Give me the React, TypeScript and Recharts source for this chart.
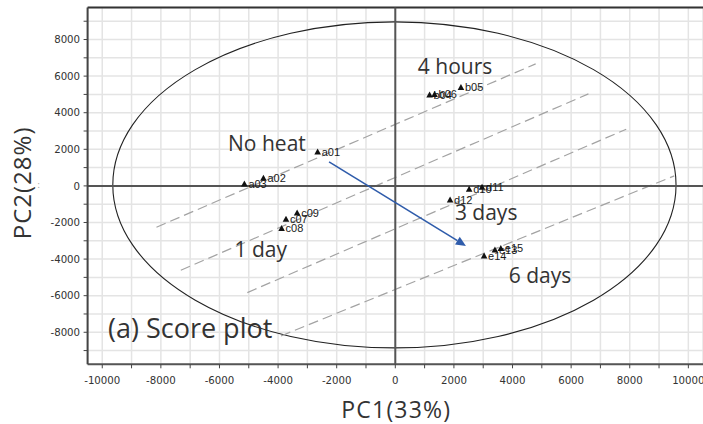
import React from 'react';
import {
  ScatterChart,
  Scatter,
  XAxis,
  YAxis,
  CartesianGrid,
  ReferenceLine,
  ReferenceArea,
  ReferenceDot,
  Label,
} from 'recharts';

// ---- sample scores ----
const sampleNames = ['a01', 'a02', 'a03', 'b04', 'b06', 'b05', 'c07', 'c08', 'c09', 'd12', 'd10', 'd11', 'e14', 'e13', 'e15'];
const pc1Scores = [-2650, -4500, -5150, 1170, 1340, 2240, -3730, -3880, -3350, 1870, 2520, 2960, 3030, 3400, 3600];
const pc2Scores = [1850, 420, 110, 4970, 5000, 5380, -1820, -2330, -1480, -770, -180, -80, -3830, -3500, -3420];

// ---- axis ticks ----
const xTicks = [-10000, -9000, -8000, -7000, -6000, -5000, -4000, -3000, -2000, -1000, 0, 1000, 2000, 3000, 4000, 5000, 6000, 7000, 8000, 9000, 10000];
const yTicks = [-9000, -8000, -7000, -6000, -5000, -4000, -3000, -2000, -1000, 0, 1000, 2000, 3000, 4000, 5000, 6000, 7000, 8000, 9000];
const xDomain = [-10500, 10500];
const yDomain = [-9750, 9750];

// ---- dashed guide lines (start / end in score units) ----
const guideStartX = [-8150, -7320, -5050, -3900];
const guideStartY = [-2260, -4610, -5830, -8200];
const guideEndX = [4790, 6590, 7880, 9520];
const guideEndY = [6670, 5030, 3100, 550];

// ---- arrow ----
const arrowStart = { x: -2260, y: 1310 };
const arrowEnd = { x: 2410, y: -3280 };

// ---- confidence ellipse bounding box ----
const ellipseX = [-9640, 9580];
const ellipseY = [-8855, 8965];

// ---- annotations ----
const noteTexts = ['4 hours', 'No heat', '1 day', '3 days', '6 days'];
const noteX = [2040, -4380, -4590, 3100, 4940];
const noteY = [6560, 2350, -3440, -1420, -4860];
const titleText = '(a) Score plot';
const titlePos = { x: -7000, y: -7760 };

const data = sampleNames.map((name, i) => ({ name, x: pc1Scores[i], y: pc2Scores[i] }));

const TriangleShape = (props: any) => {
  const { cx, cy, payload } = props;
  if (cx == null || cy == null) return null;
  return (
    <g>
      <path d={`M${cx},${cy - 3.5} L${cx + 3.3},${cy + 2.5} L${cx - 3.3},${cy + 2.5} Z`} fill="#111" />
      <text x={cx + 4} y={cy + 3.8} fontSize={11} fontFamily="'Liberation Sans', Arial, sans-serif" fill="#1a1a1a">
        {payload.name}
      </text>
    </g>
  );
};

const ArrowShape = (props: any) => {
  const { x1, y1, x2, y2 } = props;
  if ([x1, y1, x2, y2].some((v) => v == null || isNaN(v))) return null;
  const ang = Math.atan2(y2 - y1, x2 - x1);
  const len = 10;
  const half = 4.5;
  const bx = x2 - len * Math.cos(ang);
  const by = y2 - len * Math.sin(ang);
  const px = -Math.sin(ang) * half;
  const py = Math.cos(ang) * half;
  return (
    <g>
      <line x1={x1} y1={y1} x2={bx} y2={by} stroke="#2f5cab" strokeWidth={1.6} />
      <path d={`M${x2},${y2} L${bx + px},${by + py} L${bx - px},${by - py} Z`} fill="#2f5cab" />
    </g>
  );
};

const EllipseShape = (props: any) => {
  const { x, y, width, height } = props;
  if ([x, y, width, height].some((v) => v == null || isNaN(v))) return null;
  return (
    <ellipse
      cx={x + width / 2}
      cy={y + height / 2}
      rx={Math.abs(width) / 2}
      ry={Math.abs(height) / 2}
      fill="none"
      stroke="#222"
      strokeWidth={1.1}
    />
  );
};

const makeTextShape = (text: string, size: number) => (props: any) => {
  const { cx, cy } = props;
  if (cx == null || cy == null) return null;
  return (
    <text
      x={cx}
      y={cy}
      textAnchor="middle"
      dominantBaseline="central"
      fontSize={size}
      fontFamily="'Open Sans', 'Noto Sans', sans-serif"
      fill="#333"
    >
      {text}
    </text>
  );
};

const tickFmt = (v: number) => (v % 2000 === 0 ? String(v) : '');

const XTitle = (props: any) => {
  const vb = props.viewBox || {};
  return (
    <text
      x={vb.x + vb.width / 2 + 1}
      y={vb.y + 45}
      textAnchor="middle"
      dominantBaseline="central"
      fontSize={23}
      letterSpacing={1.2}
      fontFamily="'Open Sans', 'Noto Sans', sans-serif"
      fill="#333"
    >
      PC1(33%)
    </text>
  );
};

const YTitle = (props: any) => {
  const vb = props.viewBox || {};
  const x = vb.x - 6;
  const y = vb.y + vb.height / 2 - 3;
  return (
    <g>
      <text
        x={x}
        y={y}
        transform={`rotate(-90, ${x}, ${y})`}
        textAnchor="middle"
        dominantBaseline="central"
        fontSize={24}
        letterSpacing={1}
        fontFamily="'Open Sans', 'Noto Sans', sans-serif"
        fill="#333"
      >
        PC2(28%)
      </text>
      <text x={x + 17} y={y + 2} textAnchor="middle" dominantBaseline="central" fontSize={10} fill="#aaa">
        :
      </text>
    </g>
  );
};

export default function App() {
  return (
    <div style={{ position: 'absolute', left: 0, top: 0 }}>
      <ScatterChart
        width={703}
        height={424}
        margin={{ top: 7.5, right: 0, bottom: 29.7, left: 27.6 }}
      >
        <CartesianGrid stroke="#e4e4e4" strokeWidth={1.5} />
        <XAxis
          type="number"
          dataKey="x"
          domain={xDomain}
          ticks={xTicks}
          tickFormatter={tickFmt}
          interval={0}
          allowDataOverflow
          height={30}
          tickSize={4}
          tickMargin={8.5}
          axisLine={{ stroke: '#555', strokeWidth: 2 }}
          tickLine={{ stroke: '#444' }}
          tick={{ fontSize: 10.2, fontFamily: "'DejaVu Sans', sans-serif", fill: '#333' }}
        >
          <Label content={XTitle} />
        </XAxis>
        <YAxis
          type="number"
          dataKey="y"
          domain={yDomain}
          ticks={yTicks}
          tickFormatter={tickFmt}
          interval={0}
          allowDataOverflow
          width={60}
          tickSize={4}
          tickMargin={3.5}
          axisLine={{ stroke: '#444', strokeWidth: 2 }}
          tickLine={{ stroke: '#444' }}
          tick={{ fontSize: 10.2, fontFamily: "'DejaVu Sans', sans-serif", fill: '#333' }}
        >
          <Label content={YTitle} />
        </YAxis>

        <ReferenceLine y={yDomain[1]} stroke="#333" strokeWidth={2} ifOverflow="visible" />
        <ReferenceArea
          x1={ellipseX[0]}
          x2={ellipseX[1]}
          y1={ellipseY[0]}
          y2={ellipseY[1]}
          shape={EllipseShape}
          ifOverflow="visible"
        />
        {guideStartX.map((sx, i) => (
          <ReferenceLine
            key={`g${i}`}
            segment={[
              { x: sx, y: guideStartY[i] },
              { x: guideEndX[i], y: guideEndY[i] },
            ]}
            stroke="#a3a3a3"
            strokeWidth={1.2}
            strokeDasharray="10 5"
            ifOverflow="visible"
          />
        ))}
        <ReferenceLine x={0} stroke="#555" strokeWidth={2} />
        <ReferenceLine y={0} stroke="#555" strokeWidth={2} />
        <ReferenceLine
          segment={[arrowStart, arrowEnd]}
          shape={ArrowShape}
          ifOverflow="visible"
        />
        {noteTexts.map((t, i) => (
          <ReferenceDot key={`n${i}`} x={noteX[i]} y={noteY[i]} r={0} shape={makeTextShape(t, 21)} ifOverflow="visible" />
        ))}
        <ReferenceDot x={titlePos.x} y={titlePos.y} r={0} shape={makeTextShape(titleText, 27)} ifOverflow="visible" />
        <Scatter data={data} shape={TriangleShape} isAnimationActive={false} />
      </ScatterChart>
    </div>
  );
}
